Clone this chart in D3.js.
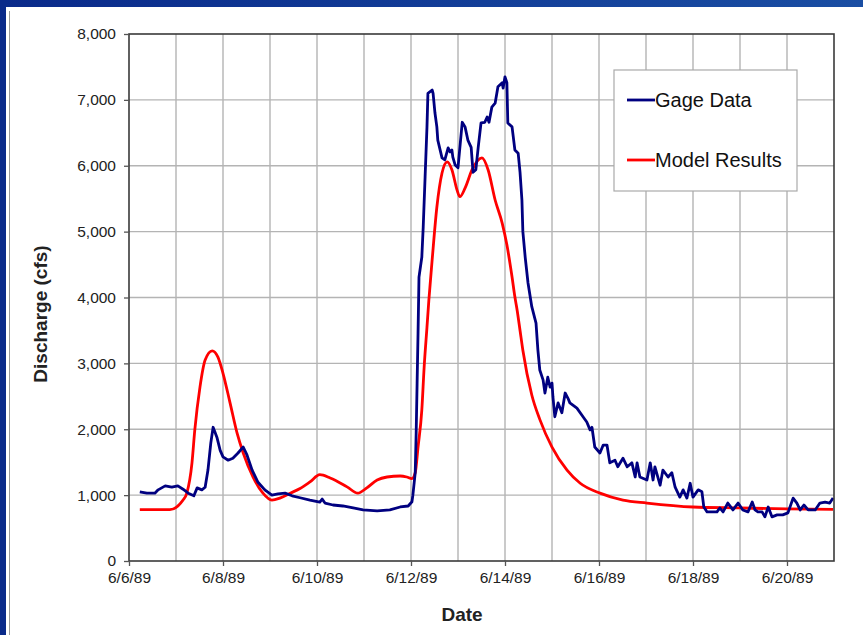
<!DOCTYPE html>
<html>
<head>
<meta charset="utf-8">
<script src="https://cdn.jsdelivr.net/npm/d3@7"></script>
<style>
  body { margin: 0; background: #fff; }
  svg { display: block; font-family: "Liberation Sans", Arial, sans-serif; }
</style>
</head>
<body>
<svg id="chart" width="863" height="635"></svg>
<script>
// days since 6/6/89 and discharge (cfs)
const gageDays = [0.23, 0.38, 0.55, 0.62, 0.77, 0.91, 1.04, 1.15, 1.26, 1.38, 1.45, 1.55, 1.62, 1.68, 1.74, 1.79, 1.87, 1.94, 2.00, 2.11,
  2.21, 2.32, 2.43, 2.51, 2.62, 2.74, 2.89, 3.04, 3.17, 3.32, 3.47, 3.64, 3.85, 4.06, 4.11, 4.17, 4.34, 4.55, 4.77, 4.98,
  5.28, 5.55, 5.77, 5.94, 6.02, 6.04, 6.09, 6.11, 6.13, 6.15, 6.17, 6.23, 6.26, 6.30, 6.34, 6.36, 6.45, 6.47, 6.51, 6.55,
  6.57, 6.66, 6.72, 6.79, 6.83, 6.87, 6.89, 6.94, 7.00, 7.09, 7.15, 7.21, 7.28, 7.32, 7.38, 7.43, 7.49, 7.57, 7.62, 7.66,
  7.72, 7.79, 7.85, 7.94, 7.96, 8.00, 8.04, 8.06, 8.15, 8.21, 8.28, 8.32, 8.36, 8.38, 8.43, 8.49, 8.57, 8.66, 8.70, 8.74,
  8.81, 8.85, 8.91, 8.96, 9.00, 9.02, 9.06, 9.13, 9.21, 9.28, 9.34, 9.38, 9.53, 9.66, 9.74, 9.81, 9.85, 9.91, 10.02, 10.09,
  10.17, 10.23, 10.34, 10.40, 10.51, 10.60, 10.70, 10.77, 10.81, 10.87, 11.02, 11.09, 11.15, 11.19, 11.30, 11.36, 11.47, 11.55, 11.62, 11.72,
  11.79, 11.87, 11.94, 12.00, 12.11, 12.19, 12.23, 12.30, 12.51, 12.57, 12.64, 12.74, 12.85, 12.96, 13.06, 13.17, 13.26, 13.32, 13.38, 13.47,
  13.53, 13.60, 13.68, 13.79, 13.91, 14.02, 14.13, 14.21, 14.28, 14.36, 14.45, 14.60, 14.70, 14.81, 14.91, 14.98];
const gageCfs = [1050, 1030, 1030, 1080, 1140, 1120, 1140, 1090, 1030, 990, 1110, 1080, 1120, 1380, 1790, 2030, 1880, 1680, 1580, 1530,
  1560, 1640, 1730, 1610, 1380, 1200, 1080, 1000, 1020, 1030, 990, 960, 925, 895, 940, 880, 850, 835, 805, 775,
  760, 775, 820, 835, 900, 1000, 1340, 1940, 2700, 3460, 4310, 4610, 5070, 5830, 6590, 7100, 7150, 7100, 6800, 6590,
  6390, 6120, 6090, 6270, 6210, 6240, 6130, 6010, 5970, 6660, 6590, 6390, 6280, 5900, 5940, 6280, 6650, 6660, 6740, 6660,
  6890, 6950, 7200, 7260, 7180, 7350, 7260, 6650, 6590, 6240, 6190, 5900, 5480, 5000, 4610, 4220, 3860, 3610, 3200, 2900,
  2750, 2550, 2790, 2640, 2700, 2490, 2190, 2400, 2250, 2550, 2470, 2400, 2320, 2190, 2110, 1990, 2030, 1730, 1640, 1760,
  1760, 1490, 1530, 1430, 1560, 1430, 1490, 1275, 1490, 1275, 1230, 1490, 1230, 1430, 1150, 1380, 1275, 1340, 1120, 970,
  1080, 955, 1180, 970, 1080, 1050, 820, 745, 745, 805, 745, 880, 775, 880, 775, 745, 895, 775, 745, 745,
  670, 820, 670, 700, 700, 730, 955, 880, 775, 850, 775, 775, 880, 895, 880, 955];

const modelDays = [0.23, 0.87, 1.15, 1.23, 1.34, 1.40, 1.51, 1.62, 1.77, 1.89, 2.00, 2.15, 2.30, 2.43, 2.64, 2.85, 3.04, 3.21, 3.43, 3.64,
  3.85, 4.06, 4.28, 4.64, 4.87, 5.06, 5.28, 5.49, 5.77, 5.91, 6.02, 6.09, 6.15, 6.23, 6.28, 6.34, 6.38, 6.45, 6.55, 6.66,
  6.77, 6.87, 6.98, 7.04, 7.15, 7.30, 7.51, 7.64, 7.79, 7.94, 8.04, 8.15, 8.21, 8.26, 8.32, 8.38, 8.57, 8.74, 9.00, 9.32,
  9.60, 10.02, 10.51, 11.02, 12.00, 13.00, 14.00, 14.98];
const modelCfs = [780, 780, 925, 1030, 1490, 1990, 2640, 3050, 3190, 3100, 2850, 2400, 1940, 1640, 1275, 1030, 925, 955, 1030, 1100,
  1200, 1310, 1260, 1125, 1030, 1110, 1230, 1275, 1290, 1275, 1250, 1340, 1730, 2290, 2945, 3550, 3960, 4570, 5370, 5890,
  6060, 5940, 5630, 5530, 5660, 5940, 6120, 5940, 5480, 5130, 4800, 4310, 4010, 3800, 3500, 3200, 2520, 2150, 1730, 1380,
  1180, 1030, 925, 880, 820, 805, 790, 785];

const seriesNames = ["Gage Data", "Model Results"];
const seriesColors = ["#000080", "#ff0000"];
const yTicks = [0, 1000, 2000, 3000, 4000, 5000, 6000, 7000, 8000];

const startDate = new Date(1989, 5, 6);
const endDate = new Date(1989, 5, 21);
const toDate = d => new Date(startDate.getTime() + d * 864e5);

const svg = d3.select('#chart');
const W = 863, H = 635;
const margin = {left: 129, top: 34, right: 29, bottom: 74};

// slide frame
const grad = svg.append('defs').append('linearGradient').attr('id', 'band');
grad.append('stop').attr('offset', '0%').attr('stop-color', '#0a2a8a');
grad.append('stop').attr('offset', '100%').attr('stop-color', '#1a4ea3');
svg.append('rect').attr('width', W).attr('height', H).attr('fill', '#fff');
svg.append('rect').attr('x', 0).attr('y', 0).attr('width', W).attr('height', 7).attr('fill', 'url(#band)');
svg.append('rect').attr('x', 0).attr('y', 0).attr('width', 6).attr('height', H).attr('fill', '#0a2a8a');
svg.append('line').attr('x1', 9.5).attr('x2', 9.5).attr('y1', 11).attr('y2', H)
  .attr('stroke', '#9a9a9a').attr('stroke-width', 1);

const x = d3.scaleTime().domain([startDate, endDate]).range([margin.left, W - margin.right]);
const y = d3.scaleLinear().domain([0, 8000]).range([H - margin.bottom, margin.top]);

const dayTicks = d3.timeDay.range(startDate, d3.timeDay.offset(endDate, 1));
const labelTicks = dayTicks.filter((d, i) => i % 2 === 0 && d < endDate);

// gridlines
svg.append('g').selectAll('line.vx')
  .data(dayTicks.slice(1, -1))
  .enter().append('line')
  .attr('x1', d => x(d)).attr('x2', d => x(d))
  .attr('y1', y(0)).attr('y2', y(8000))
  .attr('stroke', '#b4b4b4').attr('stroke-width', 1.4);
svg.append('g').selectAll('line.hy')
  .data(yTicks.slice(1, -1))
  .enter().append('line')
  .attr('x1', x(startDate)).attr('x2', x(endDate))
  .attr('y1', d => y(d)).attr('y2', d => y(d))
  .attr('stroke', '#b4b4b4').attr('stroke-width', 1.4);

// series
const line = d3.line().x(d => x(toDate(d[0]))).y(d => y(d[1]));
svg.append('path')
  .datum(modelDays.map((d, i) => [d, modelCfs[i]]))
  .attr('d', line.curve(d3.curveMonotoneX))
  .attr('fill', 'none').attr('stroke', seriesColors[1]).attr('stroke-width', 2.8);
svg.append('path')
  .datum(gageDays.map((d, i) => [d, gageCfs[i]]))
  .attr('d', d3.line().x(d => x(toDate(d[0]))).y(d => y(d[1])))
  .attr('fill', 'none').attr('stroke', seriesColors[0]).attr('stroke-width', 2.8)
  .attr('stroke-linejoin', 'round');

// frame
svg.append('rect')
  .attr('x', x(startDate)).attr('y', y(8000))
  .attr('width', x(endDate) - x(startDate)).attr('height', y(0) - y(8000))
  .attr('fill', 'none').attr('stroke', '#3a3a3a').attr('stroke-width', 1.6);

// axes
const fmt = d3.timeFormat('%-m/%-d/%y');
const xAxis = svg.append('g')
  .attr('transform', `translate(0,${y(0)})`)
  .call(d3.axisBottom(x).tickValues(labelTicks).tickFormat(fmt).tickSize(5).tickPadding(6));
const yAxis = svg.append('g')
  .attr('transform', `translate(${x(startDate)},0)`)
  .call(d3.axisLeft(y).tickValues(yTicks).tickFormat(d3.format(',')).tickSize(5).tickPadding(8));
[xAxis, yAxis].forEach(a => {
  a.select('.domain').remove();
  a.selectAll('.tick line').attr('stroke', '#555').attr('stroke-width', 1.3);
  a.selectAll('text').attr('font-size', 15.5).attr('fill', '#222')
    .attr('font-family', '"Liberation Sans", Arial, sans-serif');
});

// axis titles
svg.append('text')
  .attr('x', 462).attr('y', 621)
  .attr('text-anchor', 'middle').attr('font-size', 19).attr('font-weight', 'bold').attr('fill', '#222')
  .text('Date');
svg.append('text')
  .attr('transform', `translate(47,314) rotate(-90)`)
  .attr('text-anchor', 'middle').attr('font-size', 19).attr('font-weight', 'bold').attr('fill', '#222')
  .text('Discharge (cfs)');

// legend
const legend = svg.append('g');
legend.append('rect')
  .attr('x', 614).attr('y', 70).attr('width', 183).attr('height', 121)
  .attr('fill', '#fff').attr('stroke', '#aaa').attr('stroke-width', 1.2);
seriesNames.forEach((name, i) => {
  const ly = 100 + i * 60;
  legend.append('line')
    .attr('x1', 627).attr('x2', 655).attr('y1', ly).attr('y2', ly)
    .attr('stroke', seriesColors[i]).attr('stroke-width', 2.8);
  legend.append('text')
    .attr('x', 655).attr('y', ly + 7)
    .attr('font-size', 20).attr('fill', '#111')
    .text(name);
});
</script>
</body>
</html>
